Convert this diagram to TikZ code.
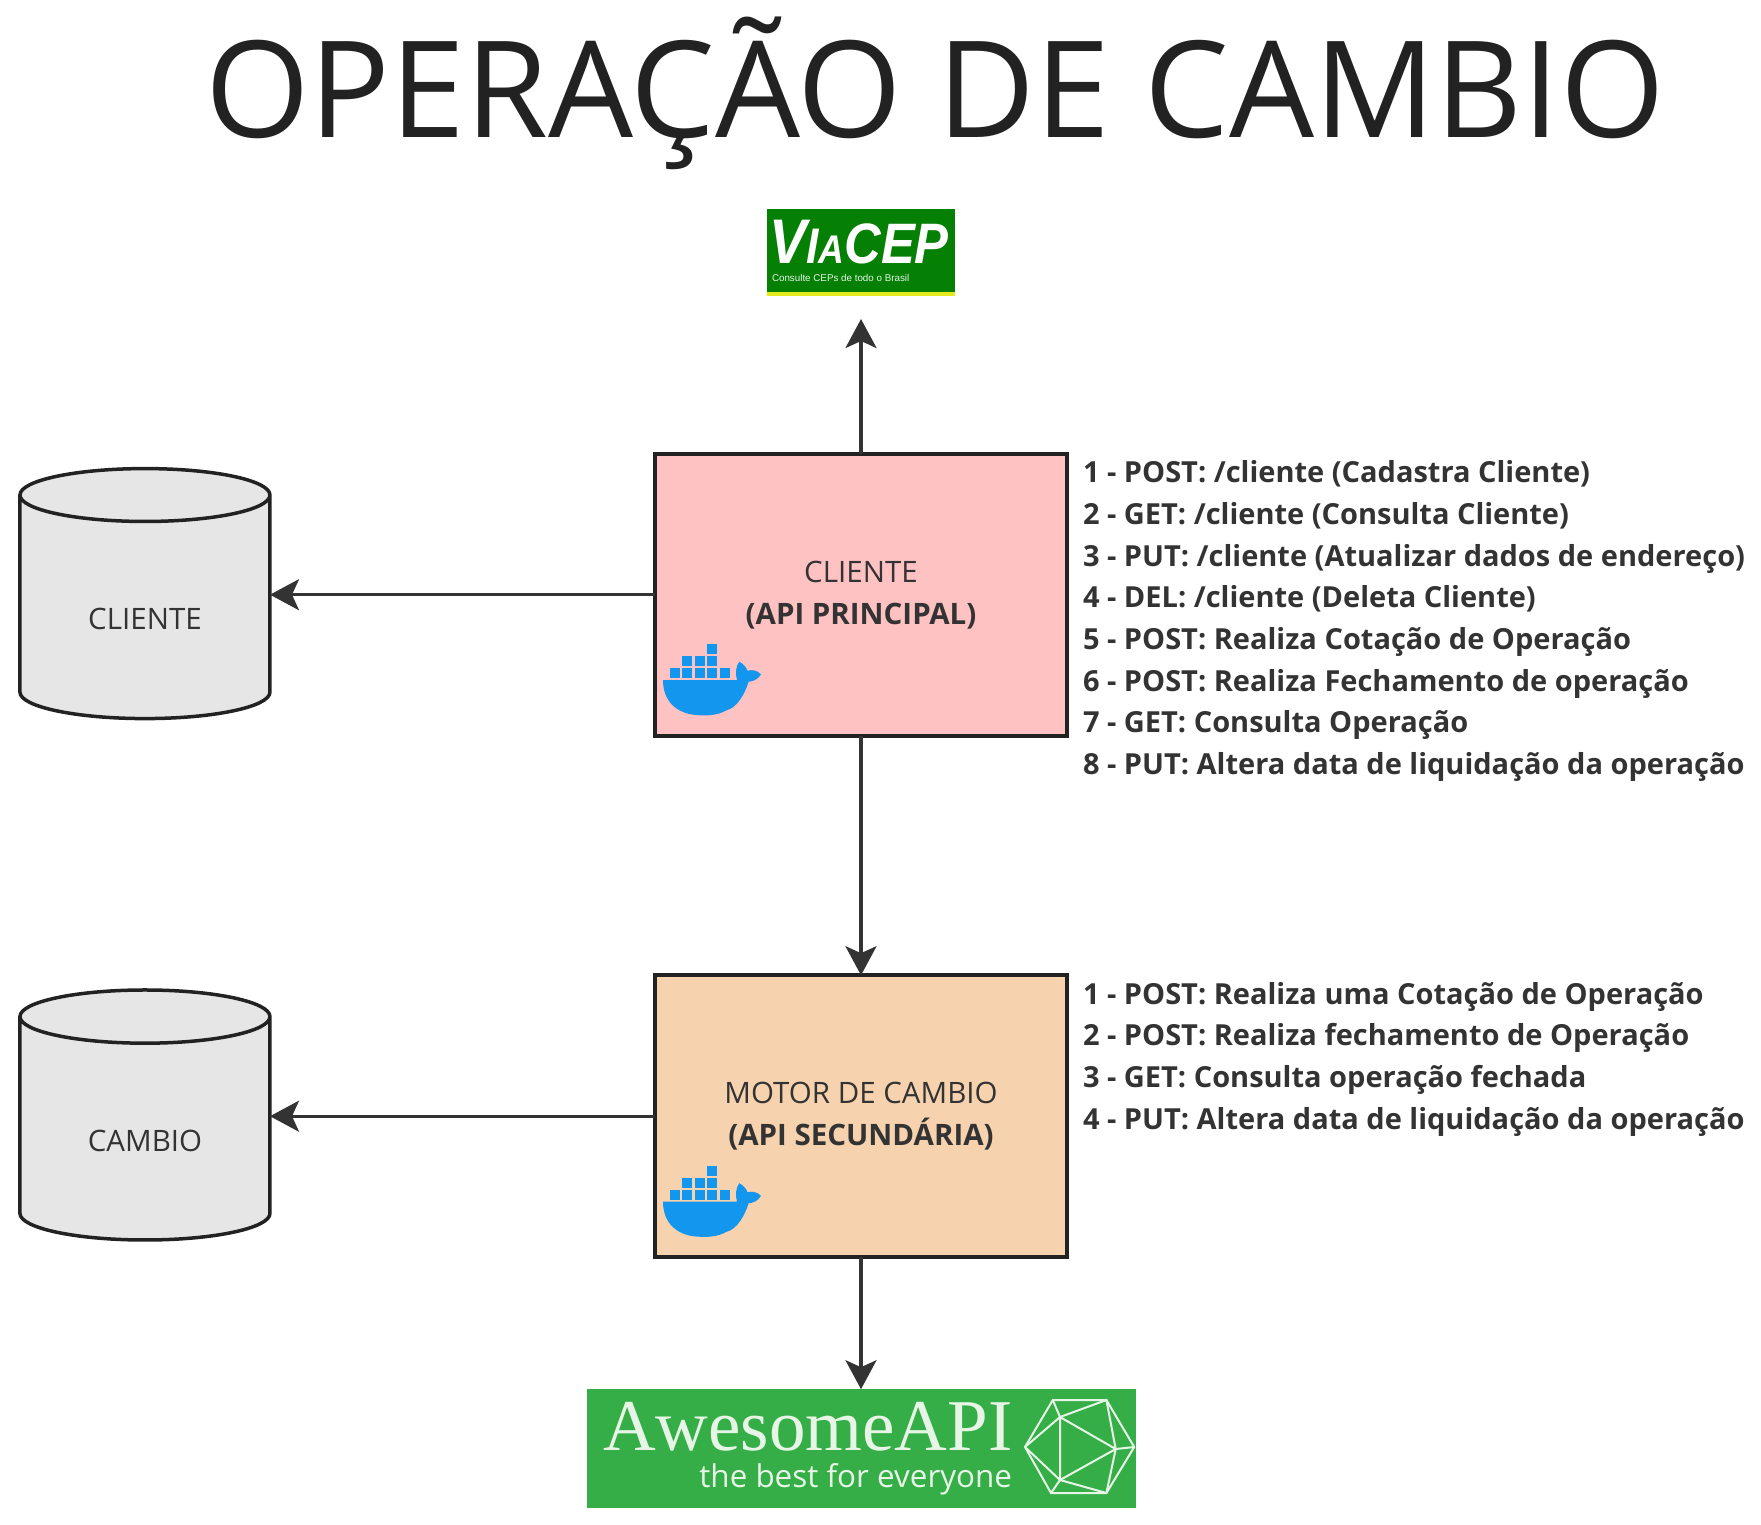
\documentclass[tikz,border=0pt]{standalone}
\usepackage{fontspec}
\setmainfont{Open Sans}
\newfontfamily\viafont{Liberation Sans}
\newfontfamily\awesomefont[Kerning=Off]{Liberation Serif}
\usetikzlibrary{positioning, arrows.meta, shapes.geometric}
\definecolor{tinta}{HTML}{333333}
\definecolor{borda}{HTML}{222222}
\definecolor{rosa}{HTML}{FFC2C2}
\definecolor{laranja}{HTML}{F6D2AE}
\definecolor{cinza}{HTML}{E6E6E6}
\definecolor{baleia}{HTML}{1296EE}
\definecolor{verdecep}{HTML}{058005}
\definecolor{amarelocep}{HTML}{E4EA1E}
\definecolor{verdeapi}{HTML}{36AE47}
\definecolor{clarinho}{HTML}{E6F5E6}
\tikzset{
  >={Stealth[length=29pt,width=31pt,inset=7pt]},
  x=1pt, y=-1pt,
  every node/.style={outer sep=0pt, text=tinta},
  api/.style={draw=borda, line width=3.8pt, minimum width=412pt, minimum height=282pt,
    align=center, font=\fontsize{29.5}{42}\selectfont, execute at begin node={\rule{0pt}{33pt}}},
  banco/.style={cylinder, shape border rotate=90, draw=borda, fill=cinza, line width=3.5pt,
    minimum width=250pt, minimum height=250pt, aspect=0.44, yshift=-16pt, font=\fontsize{29.5}{42}\selectfont},
  rotas/.style={align=left, anchor=north west, inner sep=0pt, yshift=-7pt, font=\bfseries\fontsize{29}{41.7}\selectfont},
  seta/.style={->, draw=tinta, line width=3.2pt},
  arame/.style={draw=clarinho, line width=2pt},
  docker/.pic={
    \fill[baleia] (8,-55.6) -- (82,-55.6) .. controls (80,-62) and (81,-70) .. (84.3,-74)
      .. controls (88,-72) and (91,-69) .. (92.6,-65) .. controls (96,-66) and (102,-66) .. (106,-61.3)
      .. controls (103,-56) and (97,-54) .. (93.6,-54) .. controls (90,-42) and (82,-28) .. (72,-25.6)
      .. controls (62,-20) and (52,-20) .. (42,-20.6) .. controls (22,-22) and (8,-34) .. (8,-55.6) -- cycle;
    \foreach \i in {0,...,4}
      \fill[baleia] (14.5+12.5*\i,-57.6) rectangle ++(10,-10);
    \foreach \i in {1,2,3}
      \fill[baleia] (14.5+12.5*\i,-69.6) rectangle ++(10,-10);
    \fill[baleia] (52,-81.6) rectangle ++(10,-10);
  },
}

\begin{document}
\begin{tikzpicture}
  \useasboundingbox (0,0) rectangle (1761,1524);

  \node[anchor=base, font=\fontsize{134.3}{134}\selectfont, text=borda] (titulo) at (935,137) {OPERAÇÃO DE CAMBIO};

  % apis
  \node[api, fill=rosa] (boxcliente) at (861,594.7) {CLIENTE\\\textbf{(API PRINCIPAL)}};
  \node[api, fill=laranja, below=239.5pt of boxcliente] (boxmotor) {MOTOR DE CAMBIO\\\textbf{(API SECUNDÁRIA)}};
  \pic at (boxcliente.south west) {docker};
  \pic at (boxmotor.south west) {docker};

  % bancos
  \node[banco, left=385pt of boxcliente] (bdcliente) {\raisebox{-19pt}[0pt][0pt]{CLIENTE}};
  \node[banco, left=385pt of boxmotor] (bdcambio) {\raisebox{-19pt}[0pt][0pt]{CAMBIO}};

  % rotas
  \node[rotas, right=16pt of boxcliente.north east, anchor=north west] (listacliente) {%
    1 - POST: /cliente (Cadastra Cliente)\\
    2 - GET: /cliente (Consulta Cliente)\\
    3 - PUT: /cliente (Atualizar dados de endereço)\\
    4 - DEL: /cliente (Deleta Cliente)\\
    5 - POST: Realiza Cotação de Operação\\
    6 - POST: Realiza Fechamento de operação\\
    7 - GET: Consulta Operação\\
    8 - PUT: Altera data de liquidação da operação};
  \node[rotas, right=16pt of boxmotor.north east, anchor=north west] (listamotor) {%
    1 - POST: Realiza uma Cotação de Operação\\
    2 - POST: Realiza fechamento de Operação\\
    3 - GET: Consulta operação fechada\\
    4 - PUT: Altera data de liquidação da operação};

  % viacep
  \node[fill=verdecep, minimum width=188pt, minimum height=85pt, anchor=south, inner sep=0pt] (viacep) at (861,294) {};
  \node[anchor=base west, inner sep=0pt, xscale=0.89, text=white, font=\viafont\bfseries\itshape] (viacepnome) at (769,263)
    {\fontsize{63}{63}\selectfont V\fontsize{50}{50}\selectfont I\fontsize{40}{40}\selectfont A\fontsize{57}{57}\selectfont CEP};
  \node[anchor=base west, inner sep=0pt, text=clarinho, font=\viafont\fontsize{9.8}{10}\selectfont] (viacepsub) at (772,281) {Consulte CEPs de todo o Brasil};
  \draw[amarelocep, line width=4pt] (viacep.south west) -- (viacep.south east);
  \coordinate[below=25pt of viacep] (cepponta);

  % awesome
  \node[fill=verdeapi, minimum width=549pt, minimum height=119pt, below=132pt of boxmotor] (awesome) {};
  \node[anchor=base west, inner sep=0pt, text=clarinho, font=\awesomefont\fontsize{73}{73}\selectfont] (awesomenome) at (603,1450) {AwesomeAPI};
  \node[anchor=base east, inner sep=0pt, text=clarinho, font=\fontsize{31.4}{31}\selectfont] (awesomesub) at (1012,1487) {the best for everyone};
  \draw[arame] (1052.8,1400) -- (1106.4,1400) -- (1134.2,1447) -- (1106.4,1493) -- (1051,1493) -- (1025,1447) -- cycle;
  \draw[arame] (1060,1417) -- (1115.7,1449) -- (1060,1480) -- cycle;
  \draw[arame] (1052.8,1400) -- (1060,1417) -- (1106.4,1400) -- (1115.7,1449) -- (1134.2,1447);
  \draw[arame] (1106.4,1493) -- (1115.7,1449);
  \draw[arame] (1106.4,1493) -- (1060,1480) -- (1051,1493);
  \draw[arame] (1025,1447) -- (1060,1480);
  \draw[arame] (1025,1447) -- (1060,1417);

  % setas
  \draw[seta] (boxcliente.north) -- (cepponta);
  \draw[seta] (boxcliente.west) -- (boxcliente.west -| bdcliente.east);
  \draw[seta] (boxcliente.south) -- (boxmotor.north);
  \draw[seta] (boxmotor.west) -- (boxmotor.west -| bdcambio.east);
  \draw[seta] (boxmotor.south) -- (awesome.north);
\end{tikzpicture}
\end{document}
